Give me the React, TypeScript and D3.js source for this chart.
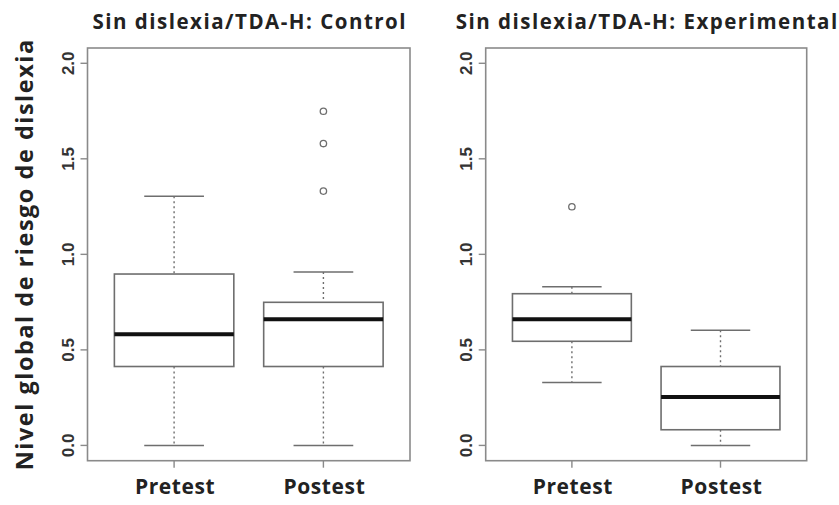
import React from 'react';
import * as d3 from 'd3';

// box stats per group: [lower whisker, Q1, median, Q3, upper whisker]
const groups = ['Pretest', 'Postest'];
const panelTitles = ['Sin dislexia/TDA-H: Control', 'Sin dislexia/TDA-H: Experimental'];
const controlStats = [
  [0, 0.413, 0.582, 0.897, 1.304],
  [0, 0.413, 0.66, 0.749, 0.908],
];
const experimentalStats = [
  [0.329, 0.545, 0.66, 0.794, 0.831],
  [0, 0.082, 0.253, 0.413, 0.603],
];
const controlOutliers = [[], [1.749, 1.58, 1.331]];
const experimentalOutliers = [[1.249], []];
const yTicks = [0, 0.5, 1, 1.5, 2];
const yLabel = 'Nivel global de riesgo de dislexia';

const W = 839;
const H = 505;
const top = 48;
const bottom = 460.7;
const panels = [
  { left: 87.5, right: 410, title: panelTitles[0], stats: controlStats, outliers: controlOutliers },
  { left: 485.7, right: 806.7, title: panelTitles[1], stats: experimentalStats, outliers: experimentalOutliers },
];

const fmt = d3.format('.1f');
const frameColor = '#8a8a8a';
const boxColor = '#6e6e6e';
const font = 'Open Sans';

const Panel: React.FC<{ p: typeof panels[number] }> = ({ p }) => {
  const x = d3.scaleLinear().domain([0.42, 2.58]).range([p.left, p.right]);
  const y = d3.scaleLinear().domain([-0.08, 2.08]).range([bottom, top]);
  const half = x(1.4) - x(1);
  const cap = x(1.2) - x(1);
  return (
    <g>
      <text x={(p.left + p.right) / 2 + 1} y={29} textAnchor="middle" fontFamily={font} fontWeight="bold" fontSize={20.5} letterSpacing={1.5} fill="#222">
        {p.title}
      </text>
      <rect x={p.left} y={top} width={p.right - p.left} height={bottom - top} fill="none" stroke={frameColor} strokeWidth={1.6} />
      {yTicks.map((t) => (
        <g key={t}>
          <line x1={p.left - 7} x2={p.left} y1={y(t)} y2={y(t)} stroke={frameColor} strokeWidth={1.4} />
          <text transform={`translate(${p.left - 14},${y(t)}) rotate(-90)`} textAnchor="middle" fontFamily="Liberation Sans" fontWeight="bold" fontSize={17} fill="#333">
            {fmt(t)}
          </text>
        </g>
      ))}
      {groups.map((g, i) => {
        const cx = x(i + 1);
        const [lo, q1, med, q3, hi] = p.stats[i];
        return (
          <g key={g}>
            <line x1={cx} x2={cx} y1={bottom} y2={bottom + 7} stroke={frameColor} strokeWidth={1.4} />
            <text x={cx + 1} y={494} textAnchor="middle" fontFamily={font} fontWeight="bold" fontSize={21} letterSpacing={0.6} fill="#222">
              {g}
            </text>
            <line x1={cx} x2={cx} y1={y(hi)} y2={y(q3)} stroke={boxColor} strokeWidth={1.4} strokeDasharray="2,3" />
            <line x1={cx} x2={cx} y1={y(q1)} y2={y(lo)} stroke={boxColor} strokeWidth={1.4} strokeDasharray="2,3" />
            <line x1={cx - cap} x2={cx + cap} y1={y(hi)} y2={y(hi)} stroke={boxColor} strokeWidth={1.5} />
            <line x1={cx - cap} x2={cx + cap} y1={y(lo)} y2={y(lo)} stroke={boxColor} strokeWidth={1.5} />
            <rect x={cx - half} y={y(q3)} width={2 * half} height={y(q1) - y(q3)} fill="white" stroke={boxColor} strokeWidth={1.6} />
            <line x1={cx - half} x2={cx + half} y1={y(med)} y2={y(med)} stroke="#111" strokeWidth={4} />
            {p.outliers[i].map((o, k) => (
              <circle key={k} cx={cx} cy={y(o)} r={3.2} fill="none" stroke={boxColor} strokeWidth={1.3} />
            ))}
          </g>
        );
      })}
    </g>
  );
};

export default function App() {
  return (
    <div style={{ position: 'absolute', left: 0, top: 0 }}>
      <svg width={W} height={H} viewBox={`0 0 ${W} ${H}`} style={{ display: 'block', background: 'white' }}>
        <text transform={`translate(33,${(top + bottom) / 2}) rotate(-90)`} textAnchor="middle" fontFamily={font} fontWeight="bold" fontSize={23.5} letterSpacing={1.5} fill="#222">
          {yLabel}
        </text>
        {panels.map((p) => (
          <Panel key={p.title} p={p} />
        ))}
      </svg>
    </div>
  );
}
